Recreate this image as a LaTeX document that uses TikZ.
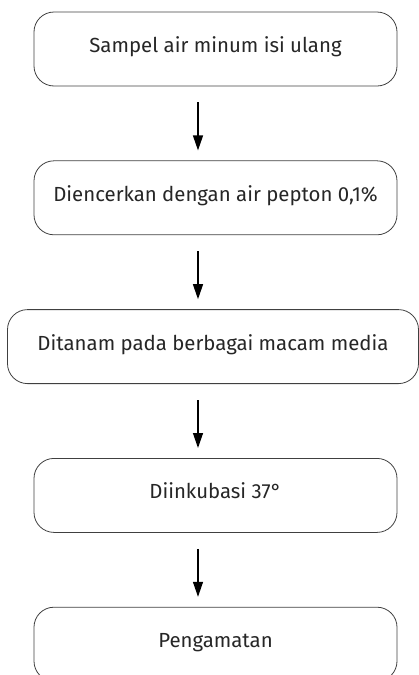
\documentclass[tikz,border=0pt]{standalone}
\usepackage{fontspec}
\setmainfont{Fira Sans}
\usetikzlibrary{positioning, arrows.meta}

\begin{document}
\begin{tikzpicture}
  [
  x = 1pt, y = 1pt,
  % langkah
  langkah/.style = {rectangle, rounded corners = 20pt,
    draw = black!75, line width = 0.8pt, minimum height = 74pt,
    minimum width = 363pt, text = black!85,
    text height = 15pt, text depth = 8pt,
    font = \fontsize{20.4}{24}\selectfont},
  % panah
  panah/.style = {draw, line width = 1.3pt,
    -{Triangle[width = 10pt, length = 15pt]},
    shorten <= 16pt, shorten >= 10pt},
  node distance = 74pt,
  ]
  \useasboundingbox (0,0) rectangle (418,-675);

  % nodes
  \node [langkah] (sampel) at (215.5,-49) {Sampel air minum isi ulang};
  \node [langkah, below= of sampel] (encer) {Diencerkan dengan air pepton 0,1\%};
  \node [langkah, below= of encer, xshift = -2.5pt, minimum width = 411pt] (tanam) {Ditanam pada berbagai macam media};
  \node [langkah, below= of tanam, xshift = 2.5pt] (inkubasi) {Diinkubasi 37°};
  \node [langkah, below= of inkubasi] (amat) {Pengamatan};
  \coordinate (poros) at (198,0);

  % path
  \path [panah] (sampel.south -| poros) -- (encer.north -| poros);
  \path [panah] (encer.south -| poros) -- (tanam.north -| poros);
  \path [panah] (tanam.south -| poros) -- (inkubasi.north -| poros);
  \path [panah] (inkubasi.south -| poros) -- (amat.north -| poros);

\end{tikzpicture}
\end{document}
